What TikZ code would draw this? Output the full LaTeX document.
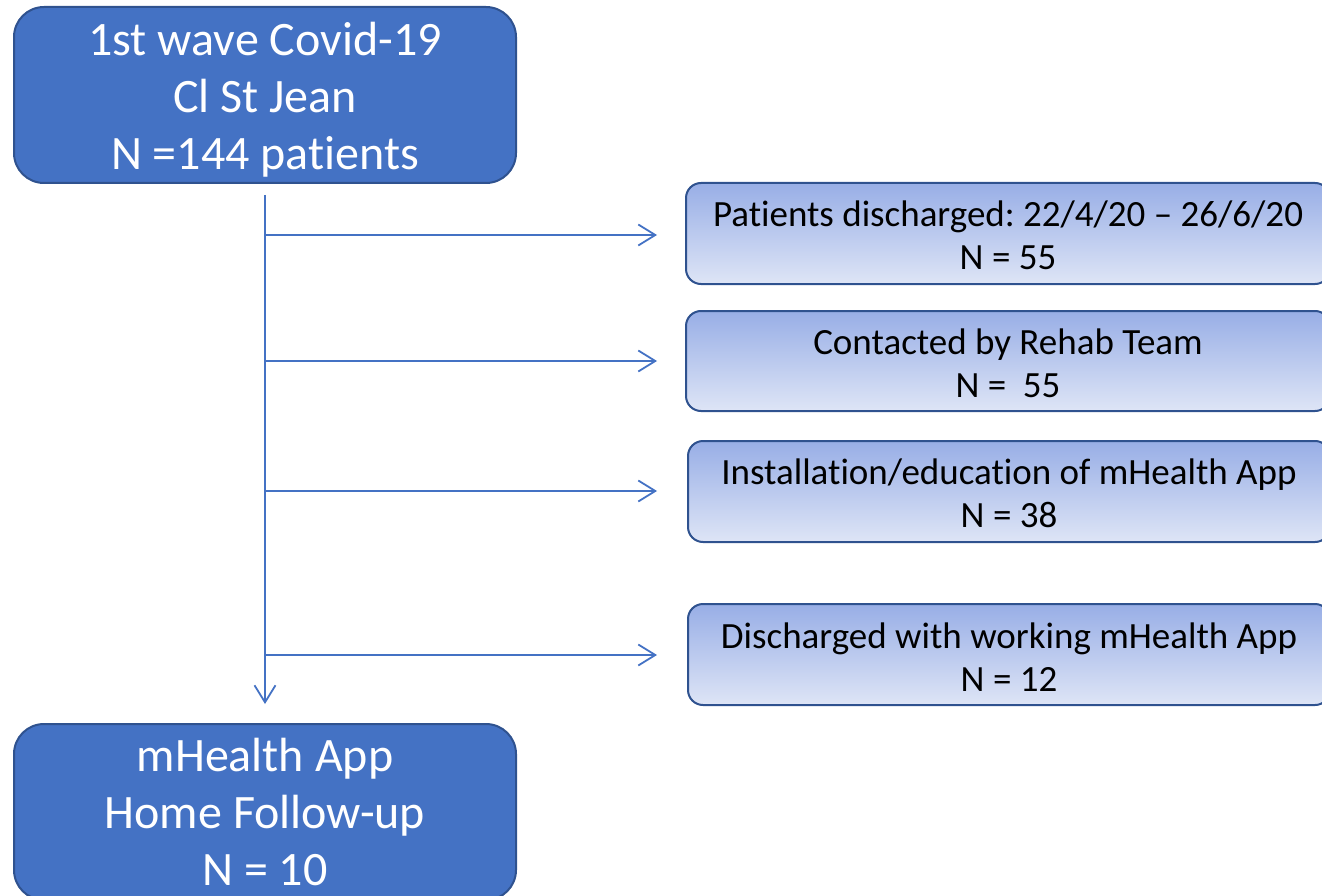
\documentclass[tikz,border=0pt]{standalone}
\usepackage{fontspec}
\setmainfont{Carlito}[Ligatures={NoCommon}]
\usetikzlibrary{arrows.meta}
\definecolor{mainblue}{HTML}{4472C4}
\definecolor{edgeblue}{HTML}{2F528F}
\definecolor{gradtop}{HTML}{98AEE6}
\definecolor{gradbot}{HTML}{DEE5F6}
\newcommand{\topstrut}[1]{\rule{0pt}{#1}}
\tikzset{
  bigbox/.style={draw=edgeblue, line width=2pt, fill=mainblue, rounded corners=30pt,
    minimum width=502pt, minimum height=176pt, align=center, text=white,
    font=\fontsize{48}{57}\selectfont},
  sidebox/.style={draw=edgeblue, line width=2pt, top color=gradtop, bottom color=gradbot,
    rounded corners=15pt, minimum height=100pt, align=center, text=black,
    font=\fontsize{37}{43}\selectfont},
  arr/.style={draw=mainblue, line width=1.8pt, -{Straight Barb[length=17pt,width=21pt,line width=1.8pt]}}
}
\begin{document}
\frenchspacing
\begin{tikzpicture}[x=1pt,y=-1pt]
\useasboundingbox (0,0) rectangle (1322,896);
\clip (0,0) rectangle (1322,896);
\node[bigbox] (top) at (265,95) {\topstrut{43pt}1st wave Covid-19\\Cl St Jean\\N =144 patients};
\node[bigbox] (bot) at (265,812) {mHealth App\\Home Follow-up\\N = 10};
\node[sidebox, minimum width=644pt, minimum height=101pt] (r1) at (1008,233.5) {\topstrut{30pt}Patients discharged: 22/4/20 -- 26/6/20\\N = 55};
\node[sidebox, minimum width=644pt] (r2) at (1008,361) {\topstrut{30pt}Contacted by Rehab Team\\N =\ \ 55};
\node[sidebox, minimum width=642pt, minimum height=101pt] (r3) at (1009,491.5) {\topstrut{30pt}Installation/education of mHealth App\\N = 38};
\node[sidebox, minimum width=642pt, minimum height=101pt] (r4) at (1009,654.5) {\topstrut{30pt}Discharged with working mHealth App\\N = 12};
\coordinate (vtop) at (265,195);
\coordinate (vend) at (265,704);
\coordinate (b1) at (265,235);
\coordinate (b2) at (265,361);
\coordinate (b3) at (265,491);
\coordinate (b4) at (265,655);
\draw[arr] (vtop) -- (vend);
\draw[arr, shorten >=28pt] (b1) -- (b1 -| r1.west);
\draw[arr, shorten >=28pt] (b2) -- (b2 -| r2.west);
\draw[arr, shorten >=30pt] (b3) -- (b3 -| r3.west);
\draw[arr, shorten >=30pt] (b4) -- (b4 -| r4.west);
\end{tikzpicture}
\end{document}
